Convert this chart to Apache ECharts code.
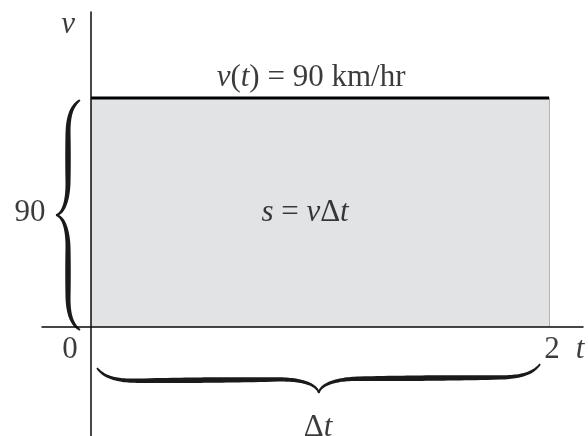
<!DOCTYPE html>
<html><head><meta charset="utf-8">
<script src="https://cdn.jsdelivr.net/npm/echarts/dist/echarts.min.js"></script>
<style>html,body{margin:0;padding:0;background:#fff}#c{width:588px;height:436px}</style>
</head><body><div id="c"></div>
<script>
// ---- data ----
const tValues = [0, 2];          // time interval (hr)
const vValues = [90, 90];        // constant velocity (km/hr)
const xTickLabels = ['0', '2'];
const yTickLabel = '90';
const titleText = '{i|v}({i|t}) = 90 km/hr';
const areaText = '{i|s} = {i|v}Δ{i|t}';
const deltaText = 'Δ{i|t}';
const xName = 't';
const yName = 'v';
const xRange = [-0.214, 2.148];
const yRange = [-42.8, 123.8];

// ---- styles ----
const FONT = 'Liberation Serif';
const FS = 31;
const INK = '#0a0a0a';
const rich = { i: { fontStyle: 'italic', fontFamily: FONT, fontSize: FS, color: INK } };

function braceHalves(A, B, d, a, h, wMax, wMin) {
  const dx = B[0] - A[0], dy = B[1] - A[1];
  const L = Math.hypot(dx, dy);
  const e = [dx / L, dy / L], n = [-e[1], e[0]];
  const half = L / 2;
  const segs = [
    [[0, 0], [h * 0.15, a * 0.6], [h * 0.4, a], [h, a]],
    [[h, a], [half * 0.5, a], [half * 0.5, a], [half - h, a]],
    [[half - h, a], [half - h * 0.5, a], [half - h * 0.05, a + (d - a) * 0.3], [half, d]]
  ];
  const cub = (p, t) => {
    const m = 1 - t;
    return [0, 1].map(k => m*m*m*p[0][k] + 3*m*m*t*p[1][k] + 3*m*t*t*p[2][k] + t*t*t*p[3][k]);
  };
  let pts = [];
  segs.forEach((s, si) => {
    const N = 30;
    for (let i = (si === 0 ? 0 : 1); i <= N; i++) pts.push(cub(s, i / N));
  });
  let len = [0];
  for (let i = 1; i < pts.length; i++) len.push(len[i-1] + Math.hypot(pts[i][0]-pts[i-1][0], pts[i][1]-pts[i-1][1]));
  const tot = len[len.length - 1];
  function poly(P) {
    const outer = [], inner = [];
    for (let i = 0; i < P.length; i++) {
      const p0 = P[Math.max(0, i-1)], p1 = P[Math.min(P.length-1, i+1)];
      let tx = p1[0]-p0[0], ty = p1[1]-p0[1]; const tl = Math.hypot(tx, ty) || 1;
      tx /= tl; ty /= tl;
      const nx = -ty, ny = tx;
      const s = len[i] / tot;
      const w = wMin + (wMax - wMin) * Math.pow(Math.sin(Math.PI * s), 0.6);
      outer.push([P[i][0] + nx * w / 2, P[i][1] + ny * w / 2]);
      inner.push([P[i][0] - nx * w / 2, P[i][1] - ny * w / 2]);
    }
    const local = outer.concat(inner.reverse());
    return local.map(p => [A[0] + p[0]*e[0] + p[1]*n[0], A[1] + p[0]*e[1] + p[1]*n[1]]);
  }
  return [poly(pts), poly(pts.map(p => [L - p[0], p[1]]))];
}

const braceData = [
  [tValues[0], vValues[0], tValues[0], 0],
  [tValues[0], 0, tValues[1], 0]
];
const braceStyle = [
  { oa: [-11, 2], ob: [-11, 3], d: 24, a: 12, h: 34, wMax: 5.5, wMin: 1.5 },
  { oa: [6, 41], ob: [-9, 37], d: 27, a: 13, h: 40, wMax: 5.5, wMin: 1.5 }
];

const chart = echarts.init(document.getElementById('c'), null, { renderer: 'canvas' });
const lab = (fmt, off) => ({ show: true, position: 'inside', formatter: fmt, offset: off,
  fontFamily: FONT, fontSize: FS, color: INK, rich });

chart.setOption({
  animation: false,
  grid: { left: 42, right: 5, top: 12, bottom: 0 },
  xAxis: { type: 'value', min: xRange[0], max: xRange[1], z: 10,
    axisLine: { show: true, onZero: true, lineStyle: { color: INK, width: 1.5 } },
    axisTick: { show: false }, axisLabel: { show: false }, splitLine: { show: false } },
  yAxis: { type: 'value', min: yRange[0], max: yRange[1], z: 10,
    axisLine: { show: true, onZero: true, lineStyle: { color: INK, width: 1.5 } },
    axisTick: { show: false }, axisLabel: { show: false }, splitLine: { show: false } },
  series: [
    { type: 'line', data: tValues.map((t, i) => [t, vValues[i]]), symbol: 'none', z: 3,
      lineStyle: { color: '#000', width: 3 }, areaStyle: { color: '#e2e3e4', opacity: 1 } },
    { type: 'line', data: [[tValues[1], 0], [tValues[1], vValues[1]]], symbol: 'none', z: 2,
      lineStyle: { color: '#777', width: 1 } },
    { type: 'custom', data: braceData, z: 5,
      renderItem: (params, api) => {
        const st = braceStyle[params.dataIndex];
        const p0 = api.coord([api.value(0), api.value(1)]);
        const p1 = api.coord([api.value(2), api.value(3)]);
        const A = [p0[0] + st.oa[0], p0[1] + st.oa[1]];
        const B = [p1[0] + st.ob[0], p1[1] + st.ob[1]];
        const halves = braceHalves(A, B, st.d, st.a, st.h, st.wMax, st.wMin);
        return { type: 'group', children: halves.map(pts => ({
          type: 'polygon', shape: { points: pts }, style: { fill: '#1a1a1a' } })) };
      } },
    { type: 'scatter', symbolSize: 0, z: 20, silent: true,
      data: [
        { value: [(tValues[0] + tValues[1]) / 2, vValues[0]], label: lab(titleText, [-9, -20]) },
        { value: [(tValues[0] + tValues[1]) / 2, vValues[0] / 2], label: lab(areaText, [-15, 0]) },
        { value: [tValues[0], vValues[0] / 2], label: lab(yTickLabel, [-61, 0]) },
        { value: [tValues[0], 0], label: lab(xTickLabels[0], [-21, 23]) },
        { value: [tValues[1], 0], label: lab(xTickLabels[1], [3, 23]) },
        { value: [(tValues[0] + tValues[1]) / 2, 0], label: lab(deltaText, [-2, 101]) },
        { value: [xRange[1], 0], label: lab('{i|' + xName + '}', [-3, 23]) },
        { value: [0, yRange[1]], label: lab('{i|' + yName + '}', [-23, 13]) }
      ] }
  ]
});
</script></body></html>
